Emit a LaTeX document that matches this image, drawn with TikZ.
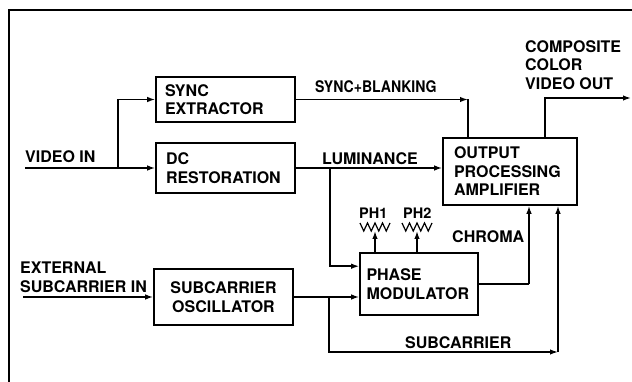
\documentclass[tikz,border=0pt]{standalone}
\usepackage{fontspec}
\setmainfont{TeX Gyre Heros}
\usetikzlibrary{arrows.meta,calc}
\tikzset{
  every node/.style={font=\fontsize{16}{18.5}\selectfont\bfseries},
  blk/.style={draw, line width=1.6pt, inner ysep=0pt, align=left},
  wire/.style={line width=1.5pt},
  arr/.style={wire, -{Latex[length=8pt,width=5.5pt]}},
  lbl/.style={inner sep=0pt, anchor=north west, align=left},
  smalllbl/.style={lbl, font=\fontsize{14.5}{16}\selectfont\bfseries},
}
\begin{document}
\begin{tikzpicture}[x=1pt,y=-1pt]
\useasboundingbox (0,0) rectangle (632,382);
\fill[white] (0,0) rectangle (632,382);
\draw[line width=2.2pt] (9,382) -- (9,10) -- (632,10);

% blocks
\node[blk, minimum width=139pt, minimum height=45pt, text width=121pt, inner xsep=9pt] (sync) at (225.5,99.5) {SYNC\\EXTRACTOR};
\node[blk, minimum width=139pt, minimum height=50pt, text width=119pt, inner xsep=10pt] (dc) at (225.5,168) {DC\\RESTORATION};
\node[blk, minimum width=134pt, minimum height=67pt, text width=112pt, inner xsep=11pt] (out) at (510,171.5) {OUTPUT\\PROCESSING\\AMPLIFIER};
\node[blk, minimum width=118pt, minimum height=62pt, text width=105pt, inner xsep=6.5pt] (phase) at (419,284) {PHASE\\MODULATOR};
\node[blk, minimum width=139pt, minimum height=56pt, text width=125pt, inner xsep=7pt, align=center] (osc) at (223.5,297) {SUBCARRIER\\OSCILLATOR};

% labels
\node[lbl] (vinl) at (25,150) {VIDEO IN};
\node[lbl] (extl) at (20,262) {EXTERNAL\\SUBCARRIER IN};
\node[lbl] (sbl) at (315,80) {\scalebox{0.88}[1]{SYNC+BLANKING}};
\node[lbl] (luml) at (322,152) {LUMINANCE};
\node[lbl] (compl) at (525,40) {COMPOSITE\\COLOR\\VIDEO OUT};
\node[smalllbl] (ph1l) at (359,208) {PH1};
\node[smalllbl] (ph2l) at (403,208) {PH2};
\node[lbl] (chl) at (452,230) {CHROMA};
\node[lbl] (subl) at (405,336) {SUBCARRIER};

% video in
\coordinate (vin) at (25,168);
\coordinate (b1) at (118,168);
\draw[wire] (vin) -- (b1);
\draw[arr] (b1) -- (dc.west);
\draw[arr] (b1) |- (sync.west);

% sync+blanking
\coordinate (sbc) at (468,99.5);
\draw[arr] (sync.east) -- (sbc);
\draw[wire] (sbc) -- (sbc |- out.north);

% luminance
\draw[arr] (dc.east) -- (dc.east -| out.west);
\coordinate (lb) at (330,168);
\draw[arr] (lb) |- ($(phase.north west)+(0,14)$);

% external subcarrier
\coordinate (ext) at (23,297);
\draw[arr] (ext) -- (osc.west);

% subcarrier
\draw[arr] (osc.east) -- (osc.east -| phase.west);
\coordinate (sb) at (329,297);
\coordinate (sbe) at (558,352);
\draw[arr] (sb) |- (sbe);
\draw[arr] (sbe) -- (sbe |- out.south);

% chroma
\coordinate (chc) at (529,284);
\draw[wire] (phase.east) -- (chc);
\draw[arr] (chc) -- (chc |- out.south);

% composite out
\coordinate (co) at (545,98);
\coordinate (coe) at (631,98);
\draw[arr] (co |- out.north) -- (co) -- (coe);

% potentiometers
\coordinate (p1) at (375,227);
\coordinate (p2) at (417,227);
\foreach \p in {p1,p2}{
  \draw[line width=1.2pt, line join=miter] ($(\p)+(-15,-4)$)
    -- ++(3.75,8) -- ++(3.75,-8) -- ++(3.75,8) -- ++(3.75,-8)
    -- ++(3.75,8) -- ++(3.75,-8) -- ++(3.75,8) -- ++(3.75,-8);
  \draw[arr] (\p |- phase.north) -- ($(\p)+(0,4)$);
}
\end{tikzpicture}
\end{document}
